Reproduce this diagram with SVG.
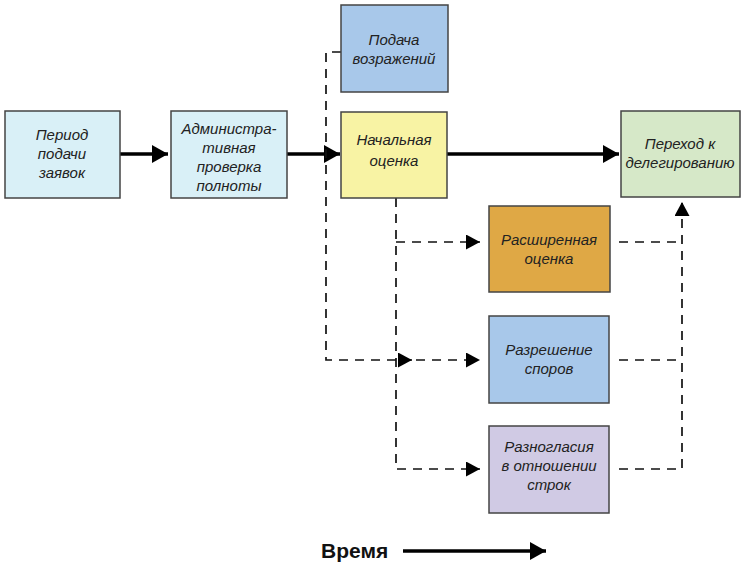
<svg xmlns="http://www.w3.org/2000/svg" width="746" height="565" viewBox="0 0 746 565">
<style>
.box{stroke:#444;stroke-width:1.5}
.t{font-family:"Liberation Sans",Arial,sans-serif;font-style:italic;font-size:15px;fill:#222;text-anchor:middle}
.thick{stroke:#000;stroke-width:3.5;fill:none}
.dash{stroke:#111;stroke-width:1.7;fill:none;stroke-dasharray:9 7}
</style>
<defs>
<marker id="big" markerUnits="userSpaceOnUse" markerWidth="18" markerHeight="20" refX="16" refY="9.5" orient="auto"><path d="M0,0.5 L16,9.5 L0,18.5 Z" fill="#000"/></marker>
<marker id="sm" markerUnits="userSpaceOnUse" markerWidth="15" markerHeight="16" refX="14" refY="7.5" orient="auto"><path d="M0,0 L14,7.5 L0,15 Z" fill="#000"/></marker>
</defs>
<rect width="746" height="565" fill="#fff"/>
<g id="connectors">
<line class="thick" x1="120" y1="154" x2="168" y2="154" marker-end="url(#big)"/>
<line class="thick" x1="287" y1="154" x2="340" y2="154" marker-end="url(#big)"/>
<line class="thick" x1="447" y1="154" x2="619" y2="154" marker-end="url(#big)"/>
<path class="dash" d="M341,52 H326 V360 H412" marker-end="url(#sm)"/>
<line class="dash" x1="416" y1="360" x2="480" y2="360" marker-end="url(#sm)"/>
<path class="dash" d="M396,198 V469 H480" marker-end="url(#sm)"/>
<line class="dash" x1="396" y1="242" x2="480" y2="242" marker-end="url(#sm)"/>
<line class="dash" x1="619" y1="242" x2="676" y2="242"/>
<line class="dash" x1="619" y1="360" x2="676" y2="360"/>
<path class="dash" d="M619,469 H682 V202" marker-end="url(#sm)"/>
</g>
<g id="n1"><rect class="box" x="5" y="111" width="115" height="87" fill="#d9f0f7"/>
<text class="t" x="62" y="140">Период</text><text class="t" x="62" y="159">подачи</text><text class="t" x="62" y="178">заявок</text></g>
<g id="n2"><rect class="box" x="171" y="111" width="116" height="87" fill="#d9f0f7"/>
<text class="t" x="229" y="134">Администра-</text><text class="t" x="229" y="153">тивная</text><text class="t" x="229" y="172">проверка</text><text class="t" x="229" y="191">полноты</text></g>
<g id="n3"><rect class="box" x="341" y="5" width="107" height="87" fill="#a8c8ea"/>
<text class="t" x="394" y="45">Подача</text><text class="t" x="394" y="64">возражений</text></g>
<g id="n4"><rect class="box" x="341" y="112" width="106" height="86" fill="#f8f3a4"/>
<text class="t" x="394" y="145">Начальная</text><text class="t" x="394" y="166">оценка</text></g>
<g id="n5"><rect class="box" x="621" y="111" width="119" height="86" fill="#d6e8c8"/>
<text class="t" x="680" y="149">Переход к</text><text class="t" x="680" y="168">делегированию</text></g>
<g id="n6"><rect class="box" x="489" y="206" width="121" height="86" fill="#dfa845"/>
<text class="t" x="549" y="245">Расширенная</text><text class="t" x="549" y="264">оценка</text></g>
<g id="n7"><rect class="box" x="489" y="316" width="120" height="87" fill="#a8c8ea"/>
<text class="t" x="549" y="355">Разрешение</text><text class="t" x="549" y="374">споров</text></g>
<g id="n8"><rect class="box" x="489" y="426" width="120" height="87" fill="#d0cae4"/>
<text class="t" x="549" y="452">Разногласия</text><text class="t" x="549" y="471">в отношении</text><text class="t" x="549" y="490">строк</text></g>
<g id="time">
<text x="321" y="558" font-family="Liberation Sans,Arial,sans-serif" font-weight="bold" font-size="21" fill="#111">Время</text>
<line class="thick" x1="403" y1="551" x2="546" y2="551" marker-end="url(#big)"/>
</g>
</svg>
